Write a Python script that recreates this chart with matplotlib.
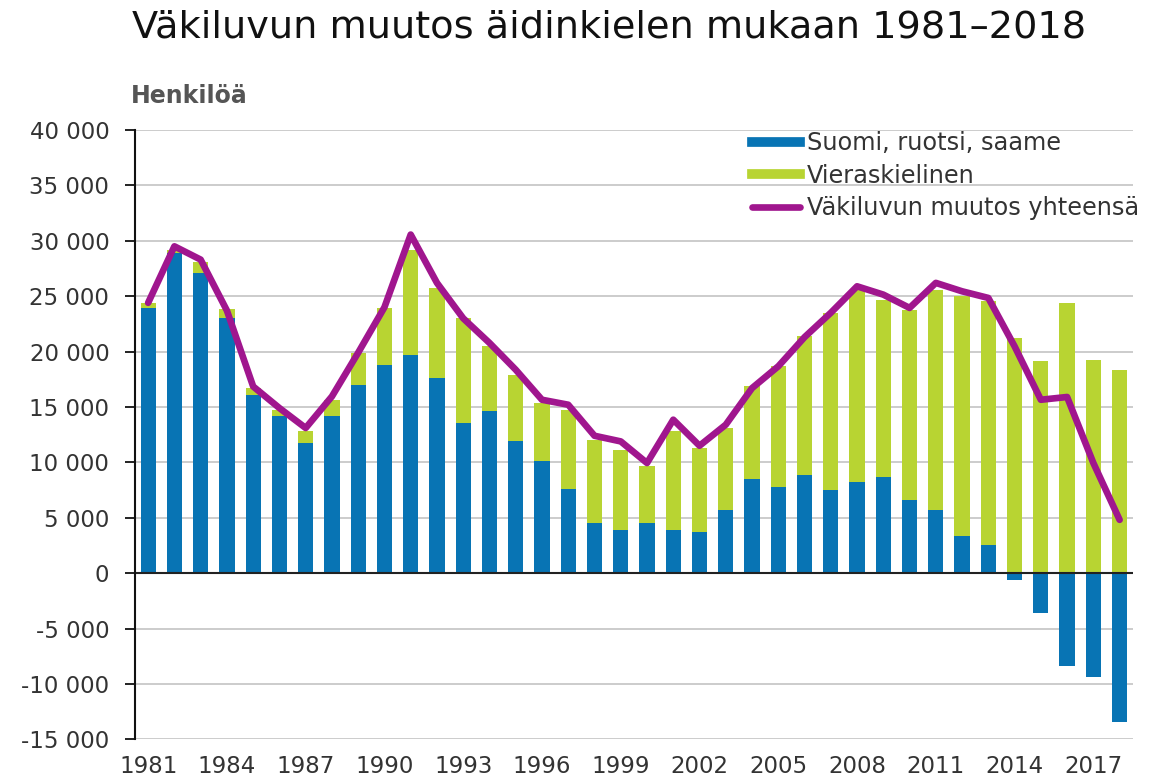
import numpy as np
import matplotlib
matplotlib.use("Agg")
import matplotlib.pyplot as plt
from matplotlib.ticker import FuncFormatter

plt.rcParams['font.family'] = ['DejaVu Sans']

years = list(range(1981, 2019))
# Suomi, ruotsi, saame (native languages)
native = [23940, 28900, 27100, 23030, 16100, 14150, 11740, 14150, 17010, 18820,
          19720, 17610, 13550, 14600, 11890, 10080, 7590, 4520, 3850, 4520,
          3850, 3670, 5660, 8520, 7770, 8880, 7460, 8190, 8670, 6560,
          5660, 3310, 2560, -600, -3610, -8350, -9400, -13400]
# Vieraskielinen (foreign languages)
foreign = [450, 300, 960, 820, 600, 600, 1050, 1500, 2860, 5120,
           9480, 8130, 9480, 5870, 6020, 5280, 7160, 7500, 7290, 5110,
           8950, 7620, 7440, 8340, 10900, 12500, 16030, 17400, 16020, 17230,
           19930, 21680, 21980, 21230, 19110, 24390, 19270, 18360]
# Väkiluvun muutos yhteensä (total change)
total = [24400, 29500, 28300, 23700, 16850, 14900, 13100, 15950, 19900, 24000,
         30560, 26200, 23000, 20780, 18360, 15650, 15200, 12400, 11890, 9940,
         13850, 11500, 13400, 16700, 18670, 21300, 23500, 25890, 25140, 23940,
         26200, 25440, 24840, 20470, 15650, 15900, 9940, 4810]

blue = '#0874b4'
green = '#b8d432'
purple = '#a0168e'

fig = plt.figure(figsize=(11.5, 7.77), dpi=100)
ax = fig.add_axes([0.1174, 0.0485, 0.8676, 0.7842])

x = np.arange(len(years))
bottom_f = np.maximum(native, 0)
ax.bar(x, native, width=0.58, color=blue, zorder=2, label='Suomi, ruotsi, saame')
ax.bar(x, foreign, width=0.58, bottom=bottom_f, color=green, zorder=2, label='Vieraskielinen')
ax.plot(x, total, color=purple, lw=4.8, zorder=3, solid_joinstyle='round',
        solid_capstyle='round', label='Väkiluvun muutos yhteensä')

ax.set_xlim(-0.5, len(years) - 0.5)
ax.set_ylim(-15000, 40000)
ax.set_yticks(range(-15000, 40001, 5000))
ax.yaxis.set_major_formatter(FuncFormatter(lambda v, p: f"{int(v):,}".replace(',', ' ')))
ax.set_xticks(x[::3])
ax.set_xticklabels([str(y) for y in years[::3]])

ax.grid(axis='y', color='#c8c8c8', lw=1.3, zorder=0)
ax.axhline(0, color='#222222', lw=1.5, zorder=2.5)
for s in ['top', 'right', 'bottom']:
    ax.spines[s].set_visible(False)
ax.spines['left'].set_color('#111111')
ax.spines['left'].set_linewidth(1.5)
ax.tick_params(axis='y', length=7.5, width=1.3, color='#111111', labelsize=16.5,
               labelcolor='#333333', pad=11)
ax.tick_params(axis='x', length=0, labelsize=16.5, labelcolor='#333333', pad=11)

fig.text(0.530, 0.965, 'Väkiluvun muutos äidinkielen mukaan 1981–2018',
         ha='center', va='center', fontsize=27.5, color='#111111')
fig.text(0.114, 0.876, 'Henkilöä', ha='left', va='center', fontsize=17,
         fontweight='bold', color='#555555')

handles = [plt.Line2D([], [], color=blue, lw=7),
           plt.Line2D([], [], color=green, lw=7),
           plt.Line2D([], [], color=purple, lw=4.8, solid_capstyle='round')]
labels = ['Suomi, ruotsi, saame', 'Vieraskielinen', 'Väkiluvun muutos yhteensä']
ax.legend(handles, labels, loc='upper left', bbox_to_anchor=(0.618, 0.998),
          borderaxespad=0, borderpad=0,
          frameon=False, fontsize=17.3, handlelength=2.0, handletextpad=0.3,
          labelspacing=0.35, labelcolor='#333333')

fig.savefig('out.png', dpi=100, facecolor='white')
